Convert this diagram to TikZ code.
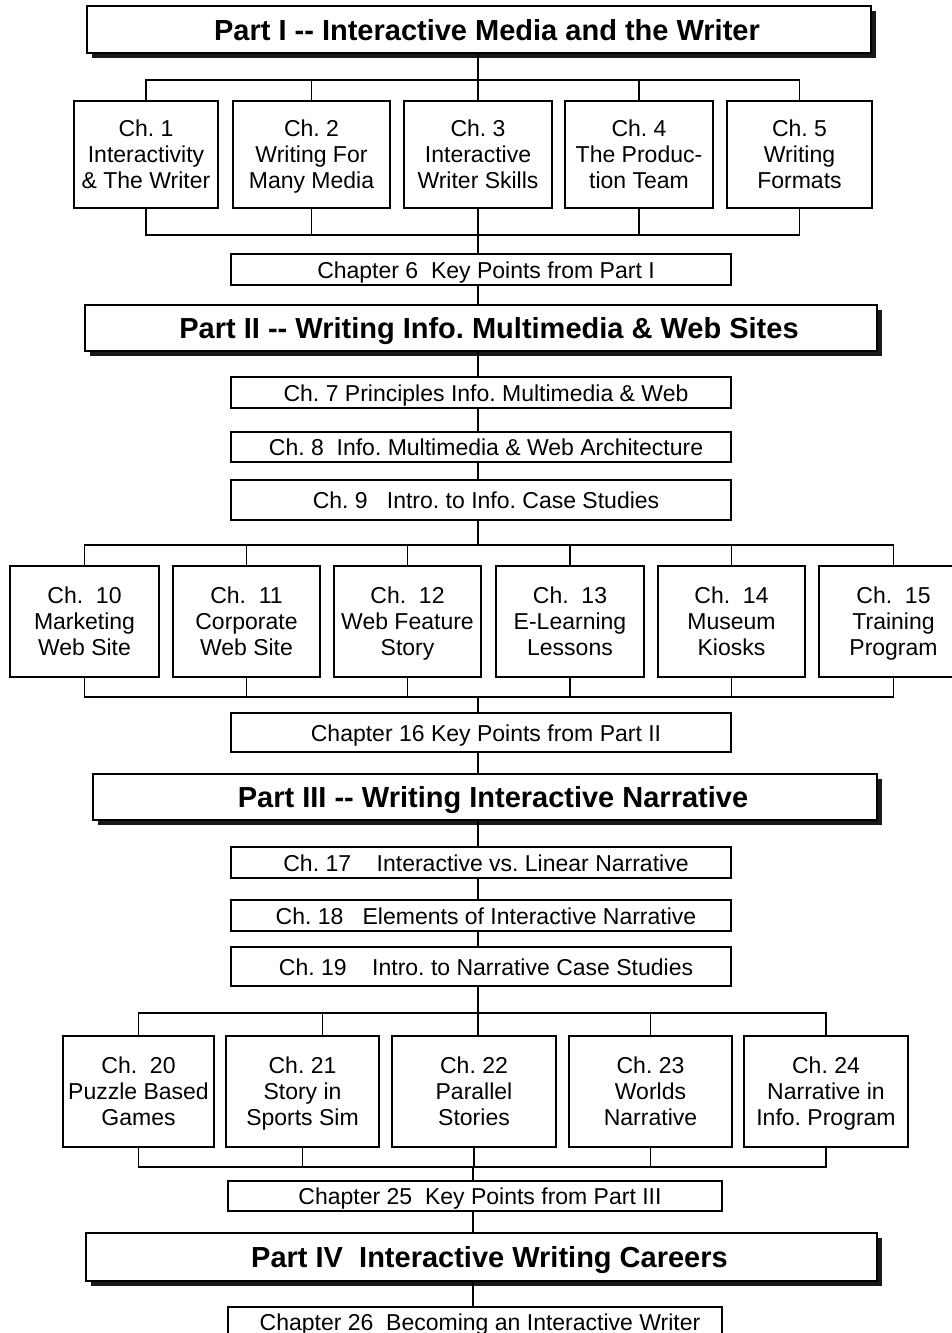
\documentclass[tikz,border=0pt]{standalone}
\usepackage{fontspec}
\setmainfont{Liberation Sans}
\frenchspacing
\usetikzlibrary{shadows}

\newcommand{\chstrut}{\rule[-6.5pt]{0pt}{30.5pt}}
\newcommand{\ptstrut}{\rule[-7pt]{0pt}{35pt}}

\tikzset{
  partbox/.style={draw, line width=1.8pt, fill=white, inner sep=0pt, outer sep=0pt,
    font=\fontsize{29}{32}\selectfont\bfseries,
    execute at begin node={\hspace*{16pt}\ptstrut},
    drop shadow={shadow xshift=5pt, shadow yshift=-5pt, fill=black!90, opacity=1}},
  chapbox/.style={draw, line width=1.8pt, fill=white, inner sep=0pt, outer sep=0pt,
    align=center, font=\fontsize{23}{26}\selectfont, text depth=0pt},
  keybox/.style={draw, line width=1.8pt, fill=white, inner sep=0pt, outer sep=0pt,
    minimum width=500, font=\fontsize{23}{26}\selectfont,
    execute at begin node={\hspace*{10pt}\chstrut}},
  link/.style={line width=1.8pt}
}

\begin{document}
\begin{tikzpicture}[x=1pt,y=-1pt]
  \useasboundingbox (0,0) rectangle (952,1333);
  \clip (0,0) rectangle (952,1333);

  %Part I
  \node[partbox, minimum width=784, minimum height=47] at (479,29.5) (p1)
    {Part I -{}- Interactive Media and the Writer};
  \node[chapbox, minimum width=144, minimum height=107] at (146,154.5)   (c1) {Ch. 1\\Interactivity\\\& The Writer};
  \node[chapbox, minimum width=157, minimum height=107] at (311.5,154.5) (c2) {Ch. 2\\Writing For\\Many Media};
  \node[chapbox, minimum width=148, minimum height=107] at (478,154.5)   (c3) {Ch. 3\\Interactive\\Writer Skills};
  \node[chapbox, minimum width=148, minimum height=107] at (639,154.5)   (c4) {Ch. 4\\The Produc-\\tion Team};
  \node[chapbox, minimum width=145, minimum height=107] at (799.5,154.5) (c5) {Ch. 5\\Writing\\Formats};
  \node[keybox, minimum height=27] at (481,269.5) (k6) {Chapter 6~~Key Points from Part I};

  %Part II
  \node[partbox, minimum width=792, minimum height=46] at (481,328) (p2)
    {Part II -{}- Writing Info. Multimedia \& Web Sites};
  \node[keybox, minimum height=29] at (481,392.5) (k7) {Ch. 7 Principles Info. Multimedia \& Web};
  \node[keybox, minimum height=30] at (481,447)   (k8) {Ch. 8~~Info. Multimedia \& Web Architecture};
  \node[keybox, minimum height=40] at (481,500)   (k9) {Ch. 9~~~Intro. to Info. Case Studies};
  \node[chapbox, minimum width=149, minimum height=111] at (84.5,621.5)  (c10) {Ch.~~10\\Marketing\\Web Site};
  \node[chapbox, minimum width=147, minimum height=111] at (246.5,621.5) (c11) {Ch.~~11\\Corporate\\Web Site};
  \node[chapbox, minimum width=147, minimum height=111] at (407.5,621.5) (c12) {Ch.~~12\\Web Feature\\Story};
  \node[chapbox, minimum width=148, minimum height=111] at (570,621.5)   (c13) {Ch.~~13\\E-Learning\\Lessons};
  \node[chapbox, minimum width=147, minimum height=111] at (731.5,621.5) (c14) {Ch.~~14\\Museum\\Kiosks};
  \node[chapbox, minimum width=149, minimum height=111] at (893.5,621.5) (c15) {Ch.~~15\\Training\\Program};
  \node[keybox, minimum height=39] at (481,732.5) (k16) {Chapter 16 Key Points from Part II};

  %Part III
  \node[partbox, minimum width=784, minimum height=46] at (485,797) (p3)
    {Part III -{}- Writing Interactive Narrative};
  \node[keybox, minimum height=27] at (481,862.5) (k17) {Ch. 17~~~~Interactive vs. Linear Narrative};
  \node[keybox, minimum height=31] at (481,915.5) (k18) {Ch. 18~~~Elements of Interactive Narrative};
  \node[keybox, minimum height=39] at (481,966.5) (k19) {Ch. 19~~~~Intro. to Narrative Case Studies};
  \node[chapbox, minimum width=151, minimum height=111] at (138.5,1091.5) (c20) {Ch.~~20\\Puzzle Based\\Games};
  \node[chapbox, minimum width=153, minimum height=111] at (302.5,1091.5) (c21) {Ch. 21\\Story in\\Sports Sim};
  \node[chapbox, minimum width=164, minimum height=111] at (474,1091.5)   (c22) {Ch. 22\\Parallel\\Stories};
  \node[chapbox, minimum width=163, minimum height=111] at (650.5,1091.5) (c23) {Ch. 23\\Worlds\\Narrative};
  \node[chapbox, minimum width=164, minimum height=111] at (826,1091.5)   (c24) {Ch. 24\\Narrative in\\Info. Program};
  \node[keybox, minimum width=494, minimum height=26] at (475,1196) (k25) {Chapter 25~~Key Points from Part III};

  %Part IV
  \node[partbox, minimum width=791, minimum height=48] at (481.5,1257) (p4)
    {Part IV~~Interactive Writing Careers};
  \node[keybox, minimum width=494, minimum height=30] at (475,1322) (k26) {Chapter 26~~Becoming an Interactive Writer};

  %Spines and buses
  \coordinate (s) at (478,0);
  \coordinate (t) at (473,0);
  \coordinate (b1) at (478,80);
  \coordinate (b2) at (478,235);
  \coordinate (b3) at (478,545);
  \coordinate (b4) at (478,697);
  \coordinate (b5) at (478,1013);
  \coordinate (b6) at (473,1167);

  %Lines
  \draw[link] (p1.south -| s) -- (b1);
  \foreach \c in {c1,c2,c3,c4,c5} \draw[link] (b1) -| (\c.north);
  \foreach \c in {c1,c2,c3,c4,c5} \draw[link] (\c.south) |- (b2);
  \draw[link] (b2) -- (k6.north -| s);
  \draw[link] (k6.south -| s) -- (p2.north -| s);
  \draw[link] (p2.south -| s) -- (k7.north -| s);
  \draw[link] (k7.south -| s) -- (k8.north -| s);
  \draw[link] (k8.south -| s) -- (k9.north -| s);
  \draw[link] (k9.south -| s) -- (b3);
  \foreach \c in {c10,c11,c12,c13,c14,c15} \draw[link] (b3) -| (\c.north);
  \foreach \c in {c10,c11,c12,c13,c14,c15} \draw[link] (\c.south) |- (b4);
  \draw[link] (b4) -- (k16.north -| s);
  \draw[link] (k16.south -| s) -- (p3.north -| s);
  \draw[link] (p3.south -| s) -- (k17.north -| s);
  \draw[link] (k17.south -| s) -- (k18.north -| s);
  \draw[link] (k18.south -| s) -- (k19.north -| s);
  \draw[link] (k19.south -| s) -- (b5);
  \foreach \c in {c20,c23,c24} \draw[link] (b5) -| (\c.north);
  \draw[link] (b5) -| ([xshift=20pt]c21.north);
  \draw[link] (b5) -| ([xshift=4pt]c22.north);
  \foreach \c in {c20,c21,c22,c23,c24} \draw[link] (\c.south) |- (b6);
  \draw[link] (b6) -- (k25.north -| t);
  \draw[link] (k25.south -| t) -- (p4.north -| t);
  \draw[link] (p4.south -| t) -- (k26.north -| t);
\end{tikzpicture}
\end{document}
